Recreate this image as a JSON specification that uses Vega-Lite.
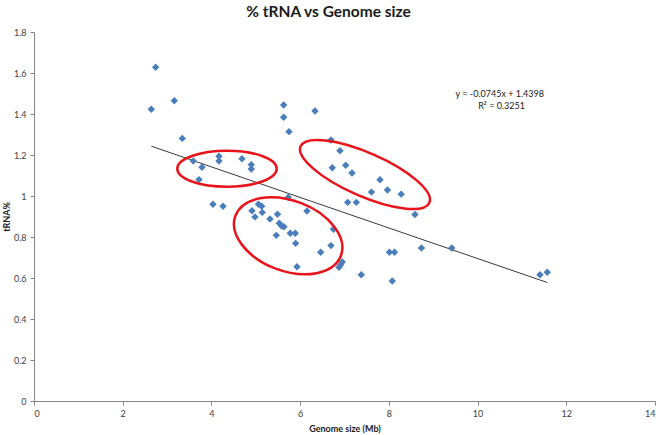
{
  "$schema": "https://vega.github.io/schema/vega-lite/v6.json",
  "autosize": {"type": "none"},
  "padding": {"left": 34, "top": 32, "right": 6, "bottom": 34},
  "width": 621,
  "height": 369,
  "background": "white",
  "title": {"text": "% tRNA vs Genome size", "font": "Lato", "fontSize": 15.5, "fontWeight": "bold", "color": "#1a1a1a", "anchor": "middle", "dx": -16, "offset": 8},
  "config": {
    "view": {"stroke": null},
    "axis": {"grid": false, "domainColor": "#868686", "tickColor": "#868686", "tickSize": 4, "labelFont": "Lato", "labelFontSize": 9, "labelColor": "#404040", "titleFont": "Lato", "titleFontSize": 9, "titleFontWeight": "bold", "titleColor": "#1a1a1a"}
  },
  "datasets": {
    "points": [
      {"genome": 2.743, "trna": 1.628}, {"genome": 3.163, "trna": 1.465}, {"genome": 2.644, "trna": 1.423},
      {"genome": 3.343, "trna": 1.281}, {"genome": 3.591, "trna": 1.171}, {"genome": 3.787, "trna": 1.140},
      {"genome": 3.720, "trna": 1.080}, {"genome": 4.170, "trna": 1.194}, {"genome": 4.170, "trna": 1.171},
      {"genome": 4.689, "trna": 1.182}, {"genome": 4.899, "trna": 1.153}, {"genome": 4.899, "trna": 1.132},
      {"genome": 4.035, "trna": 0.960}, {"genome": 4.261, "trna": 0.950}, {"genome": 5.629, "trna": 1.444},
      {"genome": 5.629, "trna": 1.384}, {"genome": 5.748, "trna": 1.314}, {"genome": 6.335, "trna": 1.415},
      {"genome": 5.733, "trna": 0.994}, {"genome": 6.154, "trna": 0.927}, {"genome": 5.061, "trna": 0.960},
      {"genome": 5.133, "trna": 0.950}, {"genome": 4.914, "trna": 0.928}, {"genome": 5.146, "trna": 0.920},
      {"genome": 4.982, "trna": 0.898}, {"genome": 5.489, "trna": 0.911}, {"genome": 5.320, "trna": 0.888},
      {"genome": 5.530, "trna": 0.867}, {"genome": 5.584, "trna": 0.854}, {"genome": 5.636, "trna": 0.850},
      {"genome": 5.778, "trna": 0.818}, {"genome": 5.890, "trna": 0.818}, {"genome": 5.462, "trna": 0.808},
      {"genome": 5.899, "trna": 0.769}, {"genome": 5.929, "trna": 0.655}, {"genome": 6.463, "trna": 0.726},
      {"genome": 6.695, "trna": 0.758}, {"genome": 6.752, "trna": 0.838}, {"genome": 6.950, "trna": 0.678},
      {"genome": 6.909, "trna": 0.663}, {"genome": 6.876, "trna": 0.652}, {"genome": 7.378, "trna": 0.616},
      {"genome": 6.695, "trna": 1.273}, {"genome": 6.898, "trna": 1.221}, {"genome": 7.027, "trna": 1.150},
      {"genome": 6.724, "trna": 1.138}, {"genome": 7.169, "trna": 1.112}, {"genome": 7.072, "trna": 0.969},
      {"genome": 7.266, "trna": 0.969}, {"genome": 7.800, "trna": 1.079}, {"genome": 7.969, "trna": 1.029},
      {"genome": 7.608, "trna": 1.019}, {"genome": 8.278, "trna": 1.009}, {"genome": 8.589, "trna": 0.910},
      {"genome": 8.014, "trna": 0.726}, {"genome": 8.127, "trna": 0.726}, {"genome": 8.735, "trna": 0.746},
      {"genome": 9.418, "trna": 0.746}, {"genome": 8.077, "trna": 0.585}, {"genome": 11.407, "trna": 0.616},
      {"genome": 11.571, "trna": 0.628}
    ],
    "trend": [
      {"genome": 2.644, "trna": 1.243},
      {"genome": 11.571, "trna": 0.578}
    ],
    "one": [{}]
  },
  "layer": [
    {
      "data": {"name": "trend"},
      "mark": {"type": "line", "color": "#3a3a3a", "strokeWidth": 1},
      "encoding": {
        "x": {"field": "genome", "type": "quantitative", "scale": {"domain": [0, 14], "nice": false}, "axis": {"title": "Genome size (Mb)", "values": [0, 2, 4, 6, 8, 10, 12, 14], "format": "~g", "labelPadding": 4, "titlePadding": 6}},
        "y": {"field": "trna", "type": "quantitative", "scale": {"domain": [0, 1.8], "nice": false}, "axis": {"title": "tRNA%", "values": [0, 0.2, 0.4, 0.6, 0.8, 1, 1.2, 1.4, 1.6, 1.8], "format": "~g", "labelPadding": 4, "titlePadding": 2}}
      }
    },
    {
      "data": {"name": "points"},
      "mark": {"type": "point", "shape": "diamond", "filled": true, "size": 55, "color": "#4a7ebb", "opacity": 1},
      "encoding": {
        "x": {"field": "genome", "type": "quantitative"},
        "y": {"field": "trna", "type": "quantitative"}
      }
    },
    {
      "data": {"name": "one"},
      "mark": {"type": "point", "filled": false, "stroke": "#e8141b", "strokeWidth": 2.5, "opacity": 1, "size": 4,
        "shape": "M49.7,0C49.7,9.94,27.45,18,0,18C-27.45,18,-49.7,9.94,-49.7,0C-49.7,-9.94,-27.45,-18,0,-18C27.45,-18,49.7,-9.94,49.7,0Z"},
      "encoding": {"x": {"datum": 4.351, "type": "quantitative"}, "y": {"datum": 1.133, "type": "quantitative"}}
    },
    {
      "data": {"name": "one"},
      "mark": {"type": "point", "filled": false, "stroke": "#e8141b", "strokeWidth": 2.5, "opacity": 1, "size": 4,
        "shape": "M52.72,20.03C45.82,38.2,16.62,43.96,-12.5,32.9C-41.62,21.84,-59.62,-1.86,-52.72,-20.03C-45.82,-38.2,-16.62,-43.96,12.5,-32.9C41.62,-21.84,59.62,1.86,52.72,20.03Z"},
      "encoding": {"x": {"datum": 5.730, "type": "quantitative"}, "y": {"datum": 0.806, "type": "quantitative"}}
    },
    {
      "data": {"name": "one"},
      "mark": {"type": "point", "filled": false, "stroke": "#e8141b", "strokeWidth": 2.5, "opacity": 1, "size": 4,
        "shape": "M64.39,28.2C59.58,39.18,26.87,35.45,-8.7,19.88C-44.27,4.31,-69.2,-17.22,-64.39,-28.2C-59.58,-39.18,-26.87,-35.45,8.7,-19.88C44.27,-4.31,69.2,17.22,64.39,28.2Z"},
      "encoding": {"x": {"datum": 7.462, "type": "quantitative"}, "y": {"datum": 1.105, "type": "quantitative"}}
    },
    {
      "data": {"name": "one"},
      "mark": {"type": "text", "text": "y = -0.0745x + 1.4398", "font": "Lato", "fontSize": 9, "color": "#1a1a1a", "align": "center", "baseline": "middle"},
      "encoding": {"x": {"datum": 10.5, "type": "quantitative"}, "y": {"datum": 1.496, "type": "quantitative"}}
    },
    {
      "data": {"name": "one"},
      "mark": {"type": "text", "text": "R² = 0.3251", "font": "Lato", "fontSize": 9, "color": "#1a1a1a", "align": "center", "baseline": "middle"},
      "encoding": {"x": {"datum": 10.54, "type": "quantitative"}, "y": {"datum": 1.440, "type": "quantitative"}}
    }
  ]
}
